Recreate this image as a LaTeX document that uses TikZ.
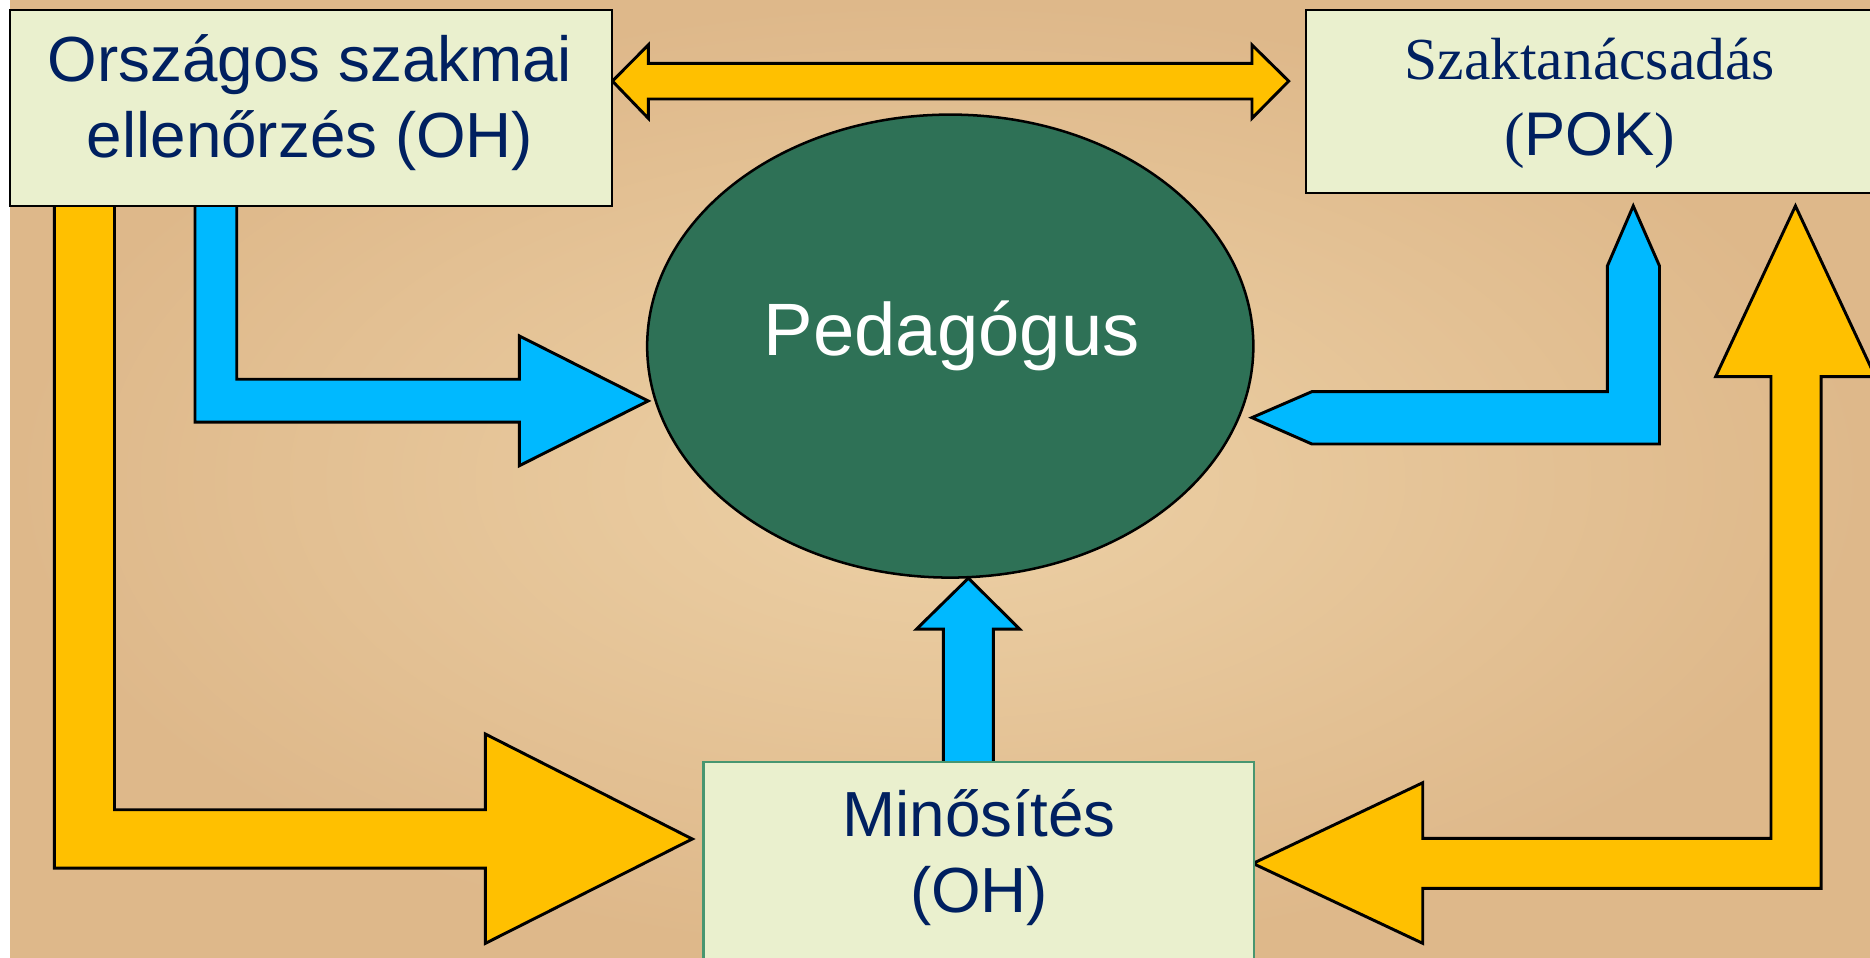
\documentclass[tikz,border=0pt]{standalone}
\usepackage{fontspec}
\setsansfont{Liberation Sans}
\newfontfamily\serifszak{Liberation Serif}
\usetikzlibrary{shapes.geometric}

\definecolor{bgout}{RGB}{222,184,138}
\definecolor{bgin}{RGB}{237,209,166}
\definecolor{boxfill}{RGB}{234,240,206}
\definecolor{navy}{RGB}{0,32,96}
\definecolor{pedgreen}{RGB}{46,113,86}
\definecolor{arrowblue}{RGB}{0,185,255}
\definecolor{arrowyellow}{RGB}{255,192,0}
\definecolor{minborder}{RGB}{72,150,112}

\tikzset{
  bluearrow/.style={fill=arrowblue, draw=black, line width=0.7pt},
  yellowarrow/.style={fill=arrowyellow, draw=black, line width=0.7pt},
  box/.style={draw=black, line width=0.5pt, fill=boxfill, inner sep=0pt},
  boxtext/.style={text=navy, font=\sffamily\fontsize{15.2}{18.2}\selectfont, align=center, anchor=base}
}

\begin{document}
\begin{tikzpicture}[x=0.01cm, y=-0.01cm]

\clip (0,0) rectangle (1568,803);
\fill [white] (0,0) rectangle (1568,803);
\shade [inner color=bgin, outer color=bgout] (8.4,0) rectangle (1568,803);

% yellow arrows
\draw [yellowarrow] (513.5,68) -- (543.6,37.7) -- (543.6,53.1) -- (1049.8,53.1) -- (1049.8,37.7)
    -- (1080.6,68) -- (1049.8,99.2) -- (1049.8,83) -- (543.6,83) -- (543.6,99.2) -- cycle;
\draw [yellowarrow] (45.6,165) -- (45.6,728) -- (407,728) -- (407,791) -- (580.5,703.5)
    -- (407,615.5) -- (407,679) -- (96,679) -- (96,165) -- cycle;
\draw [yellowarrow] (1050.6,724) -- (1193,656.3) -- (1193,703) -- (1485,703) -- (1485,315.8)
    -- (1438.6,315.8) -- (1505.5,172.7) -- (1572.4,315.8) -- (1527,315.8) -- (1527,744.9)
    -- (1193,744.9) -- (1193,791) -- cycle;

% blue arrows
\draw [bluearrow] (163.5,165) -- (163.5,354) -- (435.5,354) -- (435.5,390.5) -- (543.5,336.2)
    -- (435.5,281.7) -- (435.5,318) -- (198.5,318) -- (198.5,165) -- cycle;
\draw [bluearrow] (1049.7,350.2) -- (1100,328.4) -- (1347.8,328.4) -- (1347.8,223) -- (1369.5,172.7)
    -- (1391.5,223) -- (1391.5,372.3) -- (1100,372.3) -- cycle;
\draw [bluearrow] (791,645) -- (791,527.5) -- (768.5,527.5) -- (812,484.8) -- (855,527.5)
    -- (833,527.5) -- (833,645) -- cycle;

% boxes
\node [box, minimum width=5.045cm, minimum height=1.645cm] (osz) at (260.75,90.75) {};
\node [box, minimum width=4.8cm, minimum height=1.53cm] (szak) at (1335,85) {};
\node [box, draw=minborder, minimum width=4.61cm, minimum height=1.71cm] (min) at (820.5,724.5) {};
\node [ellipse, draw=black, fill=pedgreen, line width=0.6pt, inner sep=0pt,
    minimum width=5.08cm, minimum height=3.88cm] (ped) at (796.8,290.2) {};

% texts, anchored at the baseline of the last line
\node [boxtext] (osztext) at (260,132) {Országos szakmai\\ellenőrzés (OH)};
\node [boxtext, font=\serifszak\fontsize{14.2}{17.9}\selectfont] (szaktext) at (1333,130)
    {Szaktanácsadás\\\fontsize{14.7}{17.9}\selectfont({\sffamily POK})};
\node [boxtext, text=white, font=\sffamily\fontsize{17.7}{21}\selectfont] (pedtext) at (798,298.5) {Pedagógus};
\node [boxtext] (mintext) at (821,765) {Minősítés\\(OH)};

\end{tikzpicture}
\end{document}
